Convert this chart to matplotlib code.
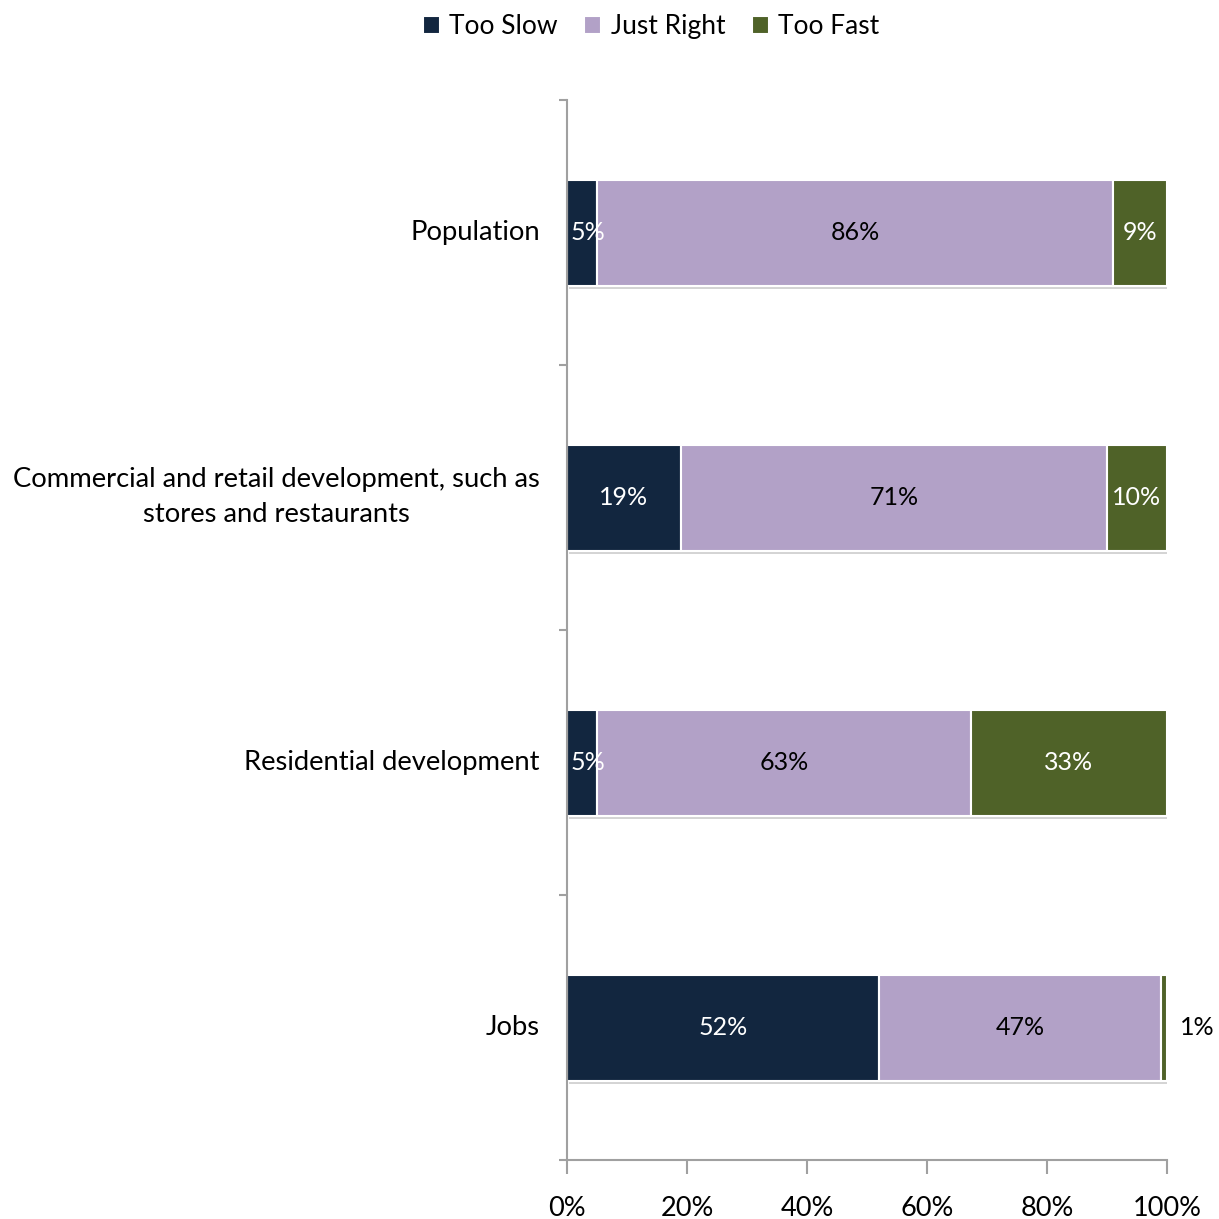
import matplotlib
matplotlib.use("Agg")
import matplotlib.pyplot as plt
import numpy as np

plt.rcParams['font.family'] = ['Lato', 'DejaVu Sans']

categories = ["Population",
              "Commercial and retail development, such as\nstores and restaurants",
              "Residential development",
              "Jobs"]
series_names = ["Too Slow", "Just Right", "Too Fast"]
too_slow = [5, 19, 5, 52]
just_right = [86, 71, 63, 47]
too_fast = [9, 10, 33, 1]
x_ticks = [0, 20, 40, 60, 80, 100]
x_tick_labels = ["0%", "20%", "40%", "60%", "80%", "100%"]

colors = ["#12263f", "#b2a1c7", "#4f6228"]
label_colors = ["white", "black", "white"]

raw = np.array([too_slow, just_right, too_fast], dtype=float)
shares = raw / raw.sum(axis=0) * 100  # 100% stacked

fig = plt.figure(figsize=(12.19, 12.19), dpi=100)
ax = fig.add_axes([567/1219, 1 - 1160/1219, 600/1219, 1060/1219])

n = len(categories)
y = np.arange(n)[::-1] + 0.5
bar_h = 0.4
left = np.zeros(n)
for i, name in enumerate(series_names):
    # soft drop shadow below each segment
    ax.barh(y - 0.014, shares[i], left=left + 0.4, height=bar_h, color="#d4d4d4",
            edgecolor="none", zorder=1)
    ax.barh(y, shares[i], left=left, height=bar_h, color=colors[i],
            edgecolor="white", linewidth=1.5, label=name, zorder=2)
    for j in range(n):
        val = raw[i, j]
        w = shares[i, j]
        if w < 3:
            ax.text(left[j] + w + 5, y[j], f"{val:.0f}%", ha="center", va="center",
                    fontsize=18, color="black", zorder=3)
        else:
            cx = left[j] + w / 2 + (1 if w < 6 else 0)
            ax.text(cx, y[j], f"{val:.0f}%", ha="center", va="center",
                    fontsize=18, color=label_colors[i], zorder=3)
    left += shares[i]

ax.set_xlim(0, 100)
ax.set_ylim(0, n)
ax.set_xticks(x_ticks)
ax.set_xticklabels(x_tick_labels, fontsize=19.5)
ax.set_yticks(np.arange(n + 1))
ax.set_yticklabels([])
ax.tick_params(axis="x", length=10, width=1.5, color="#a0a0a0", pad=16)
ax.tick_params(axis="y", length=6, width=1.5, color="#a0a0a0")
for j, cat in enumerate(categories):
    ax.text(-4.5, y[j], cat, ha="right", va="center", fontsize=19.7,
            multialignment="center", linespacing=1.5)
for s in ["top", "right"]:
    ax.spines[s].set_visible(False)
for s in ["left", "bottom"]:
    ax.spines[s].set_color("#a0a0a0")
    ax.spines[s].set_linewidth(1.5)

handles, labels = ax.get_legend_handles_labels()
fig.legend(handles, labels, loc="upper center", bbox_to_anchor=(0.534, 1.008),
           ncol=3, frameon=False, fontsize=19, handlelength=0.65, handleheight=0.65,
           handletextpad=0.35, columnspacing=1.0)

fig.savefig("out.png", dpi=100)
